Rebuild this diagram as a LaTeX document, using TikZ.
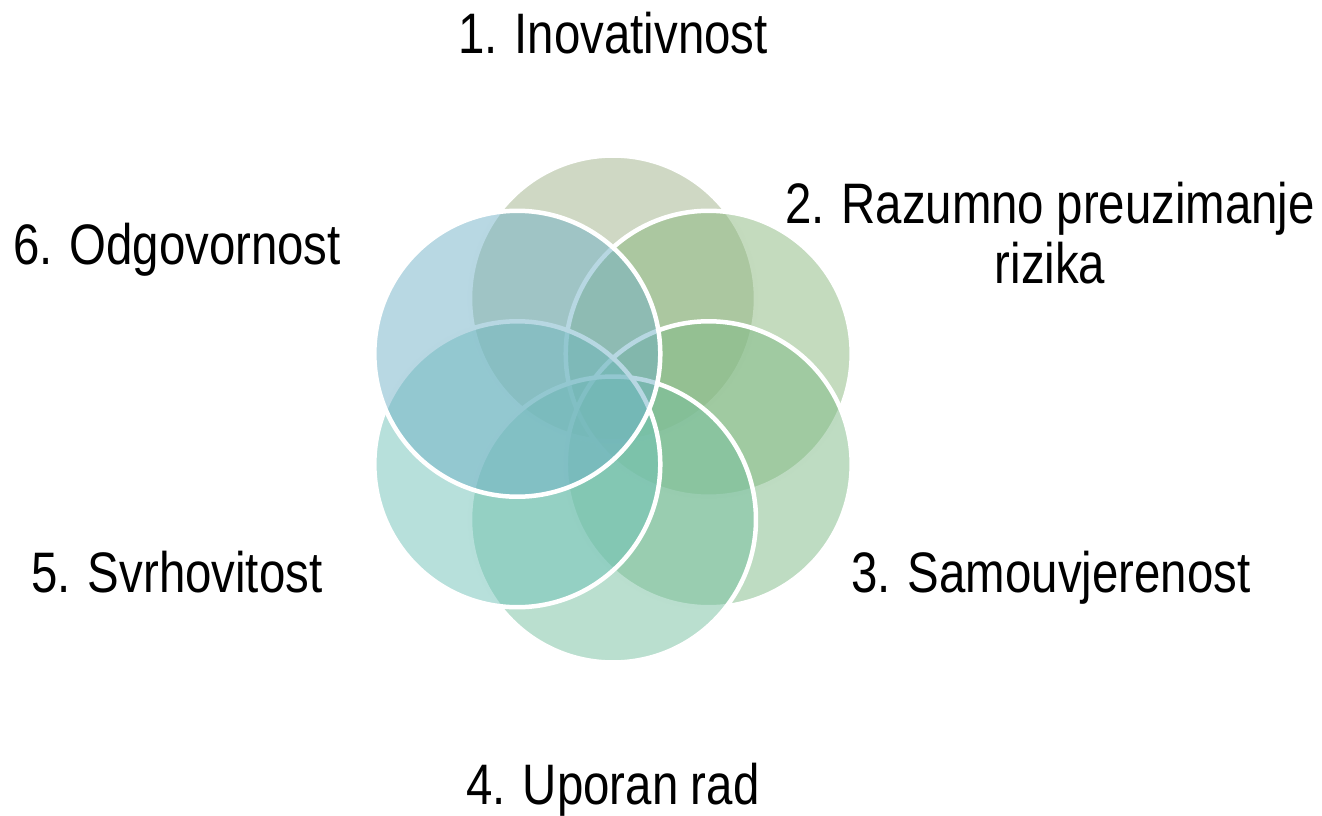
\documentclass[tikz,border=0pt]{standalone}
\usepackage{fontspec}
\setmainfont{Liberation Sans}[FakeStretch=0.83, WordSpace=0.95]
\usepackage{tikz}
\definecolor{petal1}{RGB}{159, 177, 137}
\definecolor{petal2}{RGB}{137, 183, 125}
\definecolor{petal3}{RGB}{125, 185, 133}
\definecolor{petal4}{RGB}{117, 191, 159}
\definecolor{petal5}{RGB}{111, 193, 183}
\definecolor{petal6}{RGB}{113, 177, 199}

\tikzset{
  petal/.style={circle, inner sep=0, minimum size=5.72cm, draw=white,
                line width=0.09cm, fill opacity=0.5},
  word/.style={font=\fontsize{32.5}{34}\selectfont, inner sep=0}
}

\begin{document}
\begin{tikzpicture}[x=0.02cm, y=-0.02cm]
  \useasboundingbox (0, 0) rectangle (1322, 815);

  % six overlapping circles round the middle
  \foreach [count=\n] \a in {90, 30, -30, -90, -150, 150} {
    \node[petal, fill=petal\n] (c\n) at ({613 + 110.5 * cos(\a)}, {409 - 110.5 * sin(\a)}) {};
  }

  \node[word, anchor=base] (t1) at (613, 53) {1. Inovativnost};
  \node[word, align=center] (t2) at (1050, 233) {2. Razumno preuzimanje\\rizika};
  \node[word, anchor=base] (t3) at (1051, 592) {3. Samouvjerenost};
  \node[word, anchor=base] (t4) at (613, 804) {4. Uporan rad};
  \node[word, anchor=base] (t5) at (177, 592) {5. Svrhovitost};
  \node[word, anchor=base] (t6) at (177, 264) {6. Odgovornost};
\end{tikzpicture}
\end{document}
